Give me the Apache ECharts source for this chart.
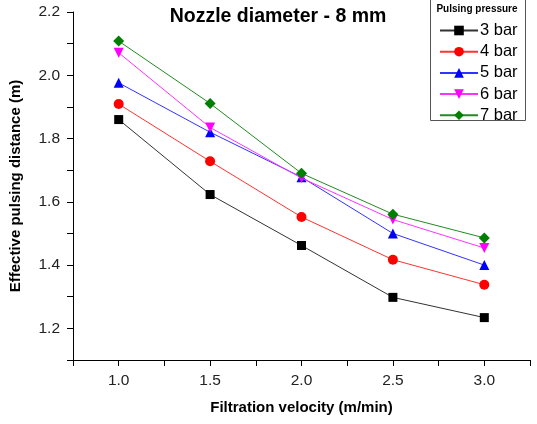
<!DOCTYPE html>
<html><head><meta charset="utf-8">
<script src="https://cdn.jsdelivr.net/npm/echarts@6/dist/echarts.min.js"></script>
<style>html,body{margin:0;padding:0;background:#fff}#c{width:537px;height:424px}</style>
</head><body><div id="c"></div>
<script>
const velocities = [1.0, 1.5, 2.0, 2.5, 3.0];
const seriesNames = ['3 bar', '4 bar', '5 bar', '6 bar', '7 bar'];
const bar3 = [1.860, 1.623, 1.462, 1.298, 1.234];
const bar4 = [1.909, 1.728, 1.552, 1.417, 1.338];
const bar5 = [1.976, 1.820, 1.678, 1.500, 1.400];
const bar6 = [2.071, 1.835, 1.675, 1.544, 1.454];
const bar7 = [2.108, 1.911, 1.690, 1.561, 1.486];
const titleText = 'Nozzle diameter - 8 mm';
const legendTitle = 'Pulsing pressure';
const xName = 'Filtration velocity (m/min)';
const yName = 'Effective pulsing distance (m)';

const FONT = '"Liberation Sans", Arial, sans-serif';
const values = [bar3, bar4, bar5, bar6, bar7];
const colors = ['#000000', '#ff0000', '#0000ff', '#ff00ff', '#008000'];
const lineColors = ['#333333', '#ff3333', '#3333ff', '#ff33ff', '#228b22'];
const symbols = ['rect', 'circle', 'triangle', 'triangle', 'diamond'];
const rotates = [0, 0, 0, 180, 0];
const sizes = [9, 10, 10, 10, 11];

const chart = echarts.init(document.getElementById('c'));
chart.setOption({
  animation: false,
  backgroundColor: '#fff',
  textStyle: { fontFamily: FONT },
  title: {
    text: titleText, left: 273, top: 2, textAlign: 'center',
    textStyle: { fontFamily: FONT, fontWeight: 'bold', fontSize: 19.5, color: '#000' }
  },
  graphic: [
    { type: 'rect', shape: { x: 430.5, y: -1, width: 95, height: 121.5 },
      style: { fill: 'none', stroke: '#555', lineWidth: 1 }, z: 10 },
    { type: 'text', x: 477, y: 9, z: 11,
      style: { text: legendTitle, font: 'bold 10px ' + FONT, fill: '#000', align: 'center', verticalAlign: 'middle' } }
  ],
  legend: {
    orient: 'vertical', left: 434, top: 17,
    itemWidth: 38, itemHeight: 12, itemGap: 4.2,
    data: seriesNames,
    textStyle: { fontFamily: FONT, fontSize: 16.5, color: '#000', padding: [0, 0, 0, -3] }
  },
  grid: { left: 69, right: 7, top: 12, bottom: 64, containLabel: false },
  xAxis: {
    type: 'value', min: 0.75, max: 3.25, interval: 0.25,
    name: xName, nameLocation: 'middle', nameGap: 40,
    nameTextStyle: { fontFamily: FONT, fontWeight: 'bold', fontSize: 15, color: '#000' },
    axisLine: { show: true, onZero: false, lineStyle: { color: '#000', width: 1 } },
    axisTick: { show: true, inside: false, length: 6, lineStyle: { color: '#000' } },
    splitLine: { show: false },
    axisLabel: {
      fontFamily: FONT, fontSize: 15.5, color: '#222', margin: 13,
      formatter: v => (Math.abs(v * 2 - Math.round(v * 2)) < 1e-6 && v > 0.8 && v < 3.2) ? v.toFixed(1) : ''
    }
  },
  yAxis: {
    type: 'value', min: 1.1, max: 2.2, interval: 0.1,
    name: yName, nameLocation: 'middle', nameGap: 50, nameRotate: 90,
    nameTextStyle: { fontFamily: FONT, fontWeight: 'bold', fontSize: 15, color: '#000' },
    axisLine: { show: true, onZero: false, lineStyle: { color: '#000', width: 1 } },
    axisTick: { show: true, inside: false, length: 6, lineStyle: { color: '#000' } },
    splitLine: { show: false },
    axisLabel: {
      fontFamily: FONT, fontSize: 15.5, color: '#222', margin: 13,
      formatter: v => (Math.round(v * 10) % 2 === 0) ? v.toFixed(1) : ''
    }
  },
  series: seriesNames.map((name, i) => ({
    name, type: 'line',
    data: velocities.map((x, j) => [x, values[i][j]]),
    symbol: symbols[i], symbolRotate: rotates[i], symbolSize: sizes[i],
    showAllSymbol: true,
    itemStyle: { color: colors[i] },
    lineStyle: { color: lineColors[i], width: 1 },
    z: 2 + i
  }))
});
</script></body></html>
